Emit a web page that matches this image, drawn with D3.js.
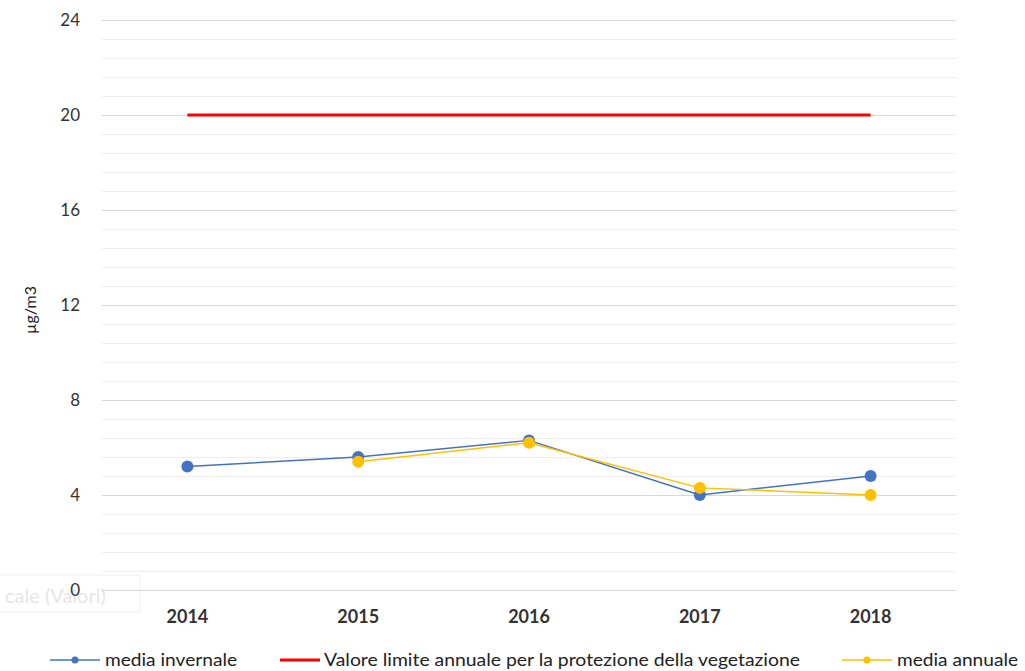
<!DOCTYPE html>
<html>
<head>
<meta charset="utf-8">
<script src="https://cdn.jsdelivr.net/npm/d3@7"></script>
<style>
  html, body { margin: 0; padding: 0; background: #fff; }
  svg { display: block; font-family: Lato, "Open Sans", sans-serif; }
</style>
</head>
<body>
<svg id="chart" width="1025" height="671"></svg>
<script>
// Annual concentrations (µg/m3)
const years = ["2014", "2015", "2016", "2017", "2018"];
const mediaInvernale = [5.2, 5.6, 6.3, 4.0, 4.8];
const mediaAnnuale = [null, 5.4, 6.2, 4.3, 4.0];
const valoreLimite = [20, 20, 20, 20, 20];
const yTicks = [0, 4, 8, 12, 16, 20, 24];
const yMinorStep = 0.8;

const svg = d3.select("#chart");
const margin = { left: 102, right: 69, top: 20, bottom: 81 };
const W = 1025, H = 671;

const x = d3.scaleBand().domain(years).range([margin.left, W - margin.right]);
const y = d3.scaleLinear().domain([0, 24]).range([H - margin.bottom, margin.top]);
const cx = d => x(d) + x.bandwidth() / 2;

// faint leftover axis-title box
const ghost = svg.append("g");
ghost.append("rect").attr("x", -2).attr("y", 575).attr("width", 142).attr("height", 37)
  .attr("fill", "none").attr("stroke", "#f0f0f0").attr("stroke-width", 1);
ghost.append("text").attr("x", 5).attr("y", 603).attr("font-size", 20)
  .attr("fill", "#e6e6e6").text("cale (Valori)");

// minor gridlines
const minor = d3.range(0, 24.001, yMinorStep).filter(v => Math.abs(v / 4 - Math.round(v / 4)) > 1e-6);
svg.append("g").selectAll("line").data(minor).join("line")
  .attr("x1", margin.left).attr("x2", W - margin.right)
  .attr("y1", d => Math.round(y(d)) + 0.5).attr("y2", d => Math.round(y(d)) + 0.5)
  .attr("stroke", "#efefef").attr("stroke-width", 1);

// major gridlines
svg.append("g").selectAll("line").data(yTicks).join("line")
  .attr("x1", margin.left).attr("x2", W - margin.right)
  .attr("y1", d => Math.round(y(d)) + 0.5).attr("y2", d => Math.round(y(d)) + 0.5)
  .attr("stroke", "#d9d9d9").attr("stroke-width", 1);

// y axis labels
const yAxis = d3.axisLeft(y).tickValues(yTicks).tickSize(0).tickPadding(0);
const yg = svg.append("g").attr("transform", `translate(${margin.left - 22},0)`).call(yAxis);
yg.select(".domain").remove();
yg.selectAll("text").attr("font-size", 17).attr("fill", "#333")
  .attr("font-family", "Lato, sans-serif").attr("dy", "0.35em");

// x axis labels
const xAxis = d3.axisBottom(x).tickSize(0).tickPadding(0);
const xg = svg.append("g").attr("transform", `translate(0,${H - margin.bottom + 20})`).call(xAxis);
xg.select(".domain").remove();
xg.selectAll("text").attr("font-size", 18).attr("font-weight", "bold").attr("fill", "#333")
  .attr("font-family", "Lato, sans-serif").attr("dy", "0.7em");

// y axis title
svg.append("text").attr("transform", `translate(36,${(y(0) + y(24)) / 2 + 5}) rotate(-90)`)
  .attr("text-anchor", "middle").attr("font-size", 16).attr("fill", "#222").text("µg/m3");

// series
const line = d3.line().defined(d => d.v != null).x(d => cx(d.k)).y(d => y(d.v));
const series = [
  { name: "media invernale", vals: mediaInvernale, color: "#4472C4", width: 1.5, dots: true },
  { name: "media annuale", vals: mediaAnnuale, color: "#FFC000", width: 1.5, dots: true },
  { name: "Valore limite annuale per la protezione della vegetazione", vals: valoreLimite, color: "#FF0000", width: 3, dots: false }
];

series.forEach(s => {
  const pts = years.map((k, i) => ({ k, v: s.vals[i] }));
  svg.append("path").datum(pts).attr("d", line).attr("fill", "none")
    .attr("stroke", s.color).attr("stroke-width", s.width).attr("stroke-linejoin", "round");
  if (s.dots) {
    svg.append("g").selectAll("circle").data(pts.filter(d => d.v != null)).join("circle")
      .attr("cx", d => cx(d.k)).attr("cy", d => y(d.v)).attr("r", 6).attr("fill", s.color);
  }
});

// legend
const legendItems = [
  { s: series[0], x0: 50, x1: 100, tx: 105, len: 132 },
  { s: series[2], x0: 280, x1: 320, tx: 324, len: 476 },
  { s: series[1], x0: 842, x1: 892, tx: 897, len: 121 }
];
const lg = svg.append("g");
const ly = 660;
legendItems.forEach(it => {
  lg.append("line").attr("x1", it.x0).attr("x2", it.x1).attr("y1", ly).attr("y2", ly)
    .attr("stroke", it.s.color).attr("stroke-width", it.s.width);
  if (it.s.dots) {
    lg.append("circle").attr("cx", (it.x0 + it.x1) / 2).attr("cy", ly).attr("r", 3.5).attr("fill", it.s.color);
  }
  lg.append("text").attr("x", it.tx).attr("y", ly).attr("dy", "0.35em")
    .attr("font-size", 17).attr("fill", "#222")
    .attr("textLength", it.len).attr("lengthAdjust", "spacingAndGlyphs").text(it.s.name);
});
</script>
</body>
</html>
